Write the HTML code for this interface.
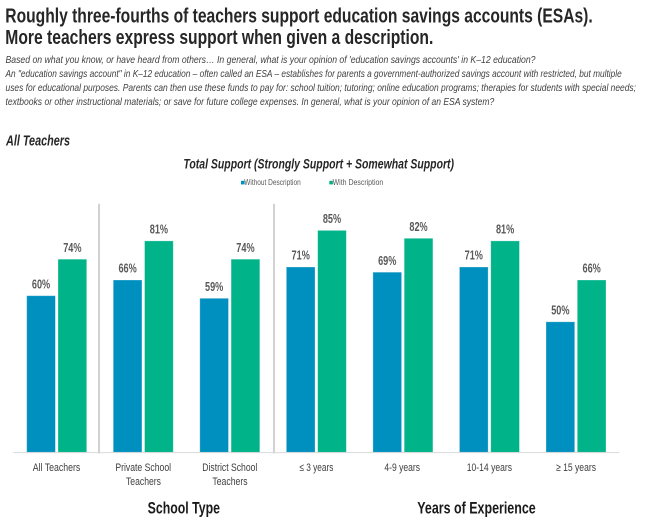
<!DOCTYPE html>
<html><head><meta charset="utf-8"><style>
html,body{margin:0;padding:0;background:#fff;}
svg{display:block;}
text{font-family:"Liberation Sans",Arial,sans-serif;}
</style></head><body>
<svg width="650" height="526" viewBox="0 0 650 526" xmlns="http://www.w3.org/2000/svg">
<rect width="650" height="526" fill="#fff"/>
<!-- Title -->
<text x="5.3" y="22.5" font-size="20" font-weight="bold" fill="#262626" textLength="587.4" lengthAdjust="spacingAndGlyphs">Roughly three-fourths of teachers support education savings accounts (ESAs).</text>
<text x="5.3" y="44" font-size="20" font-weight="bold" fill="#262626" textLength="428" lengthAdjust="spacingAndGlyphs">More teachers express support when given a description.</text>
<!-- Body -->
<g font-size="10.5" font-style="italic" fill="#404040">
<text x="5.5" y="63" textLength="530" lengthAdjust="spacingAndGlyphs">Based on what you know, or have heard from others… In general, what is your opinion of 'education savings accounts' in K–12 education?</text>
<text x="5.5" y="77" textLength="616.2" lengthAdjust="spacingAndGlyphs">An "education savings account" in K–12 education – often called an ESA – establishes for parents a government-authorized savings account with restricted, but multiple</text>
<text x="5.5" y="91" textLength="630.5" lengthAdjust="spacingAndGlyphs">uses for educational purposes. Parents can then use these funds to pay for: school tuition; tutoring; online education programs; therapies for students with special needs;</text>
<text x="5.5" y="105" textLength="488.8" lengthAdjust="spacingAndGlyphs">textbooks or other instructional materials; or save for future college expenses. In general, what is your opinion of an ESA system?</text>
</g>
<!-- All Teachers -->
<text x="6" y="145.3" font-size="15" font-weight="bold" font-style="italic" fill="#262626" textLength="64" lengthAdjust="spacingAndGlyphs">All Teachers</text>
<!-- Chart title -->
<text x="318.7" y="168.3" text-anchor="middle" font-size="13.5" font-weight="bold" font-style="italic" fill="#262626" textLength="270.7" lengthAdjust="spacingAndGlyphs">Total Support (Strongly Support + Somewhat Support)</text>
<!-- Legend -->
<rect x="241" y="180.8" width="3.6" height="3.6" fill="#0090BF"/>
<text x="244.3" y="185.2" font-size="8.5" fill="#595959" textLength="56.4" lengthAdjust="spacingAndGlyphs">Without Description</text>
<rect x="329.3" y="180.8" width="3.6" height="3.6" fill="#00B388"/>
<text x="332.6" y="185.2" font-size="8.5" fill="#595959" textLength="50.7" lengthAdjust="spacingAndGlyphs">With Description</text>
<!-- separators -->
<line x1="99" y1="203.7" x2="99" y2="453.5" stroke="#a6a6a6" stroke-width="1"/>
<line x1="274" y1="203.7" x2="274" y2="453.5" stroke="#a6a6a6" stroke-width="1"/>
<!-- bars -->
<g stroke="#ffffff" stroke-opacity="0.35" stroke-width="0.8">
<rect x="26.7" y="295.7" width="28.7" height="156.6" fill="#0090BF"/>
<rect x="58.0" y="259.2" width="28.7" height="193.1" fill="#00B388"/>
<rect x="113.25" y="280.0" width="28.7" height="172.3" fill="#0090BF"/>
<rect x="144.55" y="240.9" width="28.7" height="211.4" fill="#00B388"/>
<rect x="199.8" y="298.3" width="28.7" height="154.0" fill="#0090BF"/>
<rect x="231.1" y="259.2" width="28.7" height="193.1" fill="#00B388"/>
<rect x="286.35" y="267.0" width="28.7" height="185.3" fill="#0090BF"/>
<rect x="317.65" y="230.4" width="28.7" height="221.9" fill="#00B388"/>
<rect x="372.9" y="272.2" width="28.7" height="180.1" fill="#0090BF"/>
<rect x="404.2" y="238.3" width="28.7" height="214.0" fill="#00B388"/>
<rect x="459.45" y="267.0" width="28.7" height="185.3" fill="#0090BF"/>
<rect x="490.75" y="240.9" width="28.7" height="211.4" fill="#00B388"/>
<rect x="546.0" y="321.8" width="28.7" height="130.5" fill="#0090BF"/>
<rect x="577.3" y="280.0" width="28.7" height="172.3" fill="#00B388"/>
</g>
<!-- axis -->
<line x1="13.3" y1="452.6" x2="619.3" y2="452.6" stroke="#d9d9d9" stroke-width="1"/>
<!-- value labels -->
<g font-size="13" font-weight="bold" fill="#595959" text-anchor="middle">
<text x="41.05" y="288.4" textLength="18.3" lengthAdjust="spacingAndGlyphs">60%</text>
<text x="72.35" y="251.9" textLength="18.3" lengthAdjust="spacingAndGlyphs">74%</text>
<text x="127.6" y="272.7" textLength="18.3" lengthAdjust="spacingAndGlyphs">66%</text>
<text x="158.9" y="233.6" textLength="18.3" lengthAdjust="spacingAndGlyphs">81%</text>
<text x="214.15" y="291.0" textLength="18.3" lengthAdjust="spacingAndGlyphs">59%</text>
<text x="245.45" y="251.9" textLength="18.3" lengthAdjust="spacingAndGlyphs">74%</text>
<text x="300.7" y="259.7" textLength="18.3" lengthAdjust="spacingAndGlyphs">71%</text>
<text x="332.0" y="223.1" textLength="18.3" lengthAdjust="spacingAndGlyphs">85%</text>
<text x="387.25" y="264.9" textLength="18.3" lengthAdjust="spacingAndGlyphs">69%</text>
<text x="418.55" y="231.0" textLength="18.3" lengthAdjust="spacingAndGlyphs">82%</text>
<text x="473.8" y="259.7" textLength="18.3" lengthAdjust="spacingAndGlyphs">71%</text>
<text x="505.1" y="233.6" textLength="18.3" lengthAdjust="spacingAndGlyphs">81%</text>
<text x="560.35" y="314.5" textLength="18.3" lengthAdjust="spacingAndGlyphs">50%</text>
<text x="591.65" y="272.7" textLength="18.3" lengthAdjust="spacingAndGlyphs">66%</text>
</g>
<!-- category labels -->
<g font-size="11" fill="#404040" text-anchor="middle">
<text x="56.5" y="471" textLength="47.6" lengthAdjust="spacingAndGlyphs">All Teachers</text>
<text x="143.2" y="471" textLength="55.7" lengthAdjust="spacingAndGlyphs">Private School</text>
<text x="143.5" y="485" textLength="35" lengthAdjust="spacingAndGlyphs">Teachers</text>
<text x="229.8" y="471" textLength="55" lengthAdjust="spacingAndGlyphs">District School</text>
<text x="230" y="485" textLength="35.3" lengthAdjust="spacingAndGlyphs">Teachers</text>
<text x="316.4" y="471" textLength="34" lengthAdjust="spacingAndGlyphs">≤ 3 years</text>
<text x="402.2" y="471" textLength="35.7" lengthAdjust="spacingAndGlyphs">4-9 years</text>
<text x="489.4" y="471" textLength="45.3" lengthAdjust="spacingAndGlyphs">10-14 years</text>
<text x="576" y="471" textLength="40" lengthAdjust="spacingAndGlyphs">≥ 15 years</text>
</g>
<!-- group labels -->
<g font-size="17" font-weight="bold" fill="#1a1a1a" text-anchor="middle">
<text x="183.8" y="513.3" textLength="72.3" lengthAdjust="spacingAndGlyphs">School Type</text>
<text x="476.5" y="513.3" textLength="118.4" lengthAdjust="spacingAndGlyphs">Years of Experience</text>
</g>
</svg>
</body></html>
